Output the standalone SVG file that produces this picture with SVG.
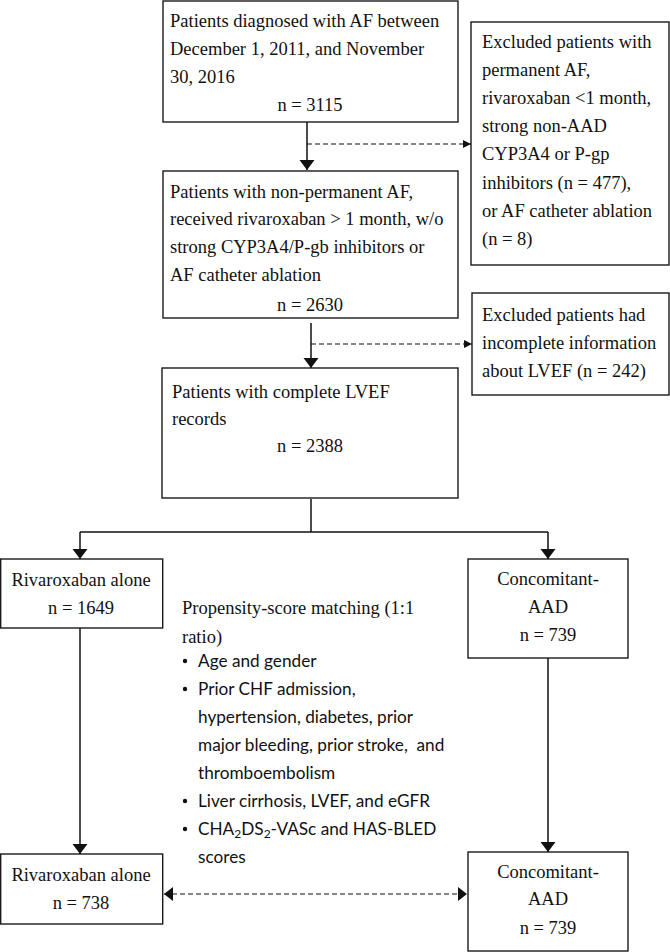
<svg xmlns="http://www.w3.org/2000/svg" width="670" height="952" viewBox="0 0 670 952">
<style>
.box{fill:#fff;stroke:#1a1a1a;stroke-width:1.4}
.t{font-family:"Liberation Serif","Times New Roman",serif;font-size:18.5px;fill:#111}
.c{text-anchor:middle}
.s{font-family:Lato,"Liberation Sans",sans-serif;font-size:17.2px;fill:#111;white-space:pre}
.ln{fill:none;stroke:#111;stroke-width:1.5}
.dl{fill:none;stroke:#111;stroke-width:1.2;stroke-dasharray:5 3}
</style>
<defs>
<marker id="ah" markerWidth="12" markerHeight="16" refX="10" refY="7.5" orient="auto" markerUnits="userSpaceOnUse">
<path d="M0,0 L10,7.5 L0,15 Z" fill="#111"/>
</marker>
<marker id="ahs" markerWidth="10" markerHeight="10" refX="8" refY="4.5" orient="auto" markerUnits="userSpaceOnUse">
<path d="M0,0.5 L8,4.5 L0,8.5 Z" fill="#111"/>
</marker>
<marker id="ahd" markerWidth="12" markerHeight="16" refX="9" refY="7" orient="auto-start-reverse" markerUnits="userSpaceOnUse">
<path d="M0,0 L9,7 L0,14 Z" fill="#111"/>
</marker>
</defs>
<rect width="670" height="952" fill="#fff"/>

<g id="connectors">
<line class="ln" x1="307" y1="122" x2="307" y2="170" marker-end="url(#ah)"/>
<line class="dl" x1="307" y1="144" x2="471" y2="144" marker-end="url(#ahs)"/>
<line class="ln" x1="311" y1="323" x2="311" y2="368" marker-end="url(#ah)"/>
<line class="dl" x1="311" y1="344" x2="472" y2="344" marker-end="url(#ahs)"/>
<polyline class="ln" points="311,499 311,532"/>
<line class="ln" x1="80" y1="532" x2="548" y2="532"/>
<line class="ln" x1="80" y1="532" x2="80" y2="559" marker-end="url(#ah)"/>
<line class="ln" x1="548" y1="532" x2="548" y2="559" marker-end="url(#ah)"/>
<line class="ln" x1="80" y1="628" x2="80" y2="854" marker-end="url(#ah)"/>
<line class="ln" x1="548" y1="658" x2="548" y2="852" marker-end="url(#ah)"/>
<line class="dl" x1="164" y1="894" x2="467" y2="894" marker-start="url(#ahd)" marker-end="url(#ahd)"/>
</g>

<g id="n1">
<rect class="box" x="163" y="1" width="295" height="121"/>
<text class="t" x="170" y="27">Patients diagnosed with AF between</text>
<text class="t" x="170" y="55">December 1, 2011, and November</text>
<text class="t" x="170" y="83">30, 2016</text>
<text class="t c" x="310" y="111">n = 3115</text>
</g>

<g id="excl1">
<rect class="box" x="471" y="22" width="198" height="243"/>
<text class="t" x="482" y="48">Excluded patients with</text>
<text class="t" x="482" y="76">permanent AF,</text>
<text class="t" x="482" y="104">rivaroxaban &lt;1 month,</text>
<text class="t" x="482" y="132">strong non-AAD</text>
<text class="t" x="482" y="160">CYP3A4 or P-gp</text>
<text class="t" x="482" y="189">inhibitors (n = 477),</text>
<text class="t" x="482" y="217">or AF catheter ablation</text>
<text class="t" x="482" y="245">(n = 8)</text>
</g>

<g id="n2">
<rect class="box" x="163" y="171" width="295" height="147"/>
<text class="t" x="170" y="198">Patients with non-permanent AF,</text>
<text class="t" x="170" y="225">received rivaroxaban &gt; 1 month, w/o</text>
<text class="t" x="170" y="253">strong CYP3A4/P-gb inhibitors or</text>
<text class="t" x="170" y="281">AF catheter ablation</text>
<text class="t c" x="310" y="311">n = 2630</text>
</g>

<g id="excl2">
<rect class="box" x="472" y="293" width="197" height="102"/>
<text class="t" x="482" y="321">Excluded patients had</text>
<text class="t" x="482" y="349">incomplete information</text>
<text class="t" x="482" y="377">about LVEF (n = 242)</text>
</g>

<g id="n3">
<rect class="box" x="162" y="368" width="296" height="130"/>
<text class="t" x="172" y="398">Patients with complete LVEF</text>
<text class="t" x="172" y="425">records</text>
<text class="t c" x="310" y="452">n = 2388</text>
</g>

<g id="riva1">
<rect class="box" x="0.7" y="559" width="162" height="69"/>
<text class="t c" x="81" y="586">Rivaroxaban alone</text>
<text class="t c" x="81" y="614">n = 1649</text>
</g>

<g id="conc1">
<rect class="box" x="468" y="559" width="160" height="99"/>
<text class="t c" x="548" y="585">Concomitant-</text>
<text class="t c" x="548" y="613">AAD</text>
<text class="t c" x="548" y="641">n = 739</text>
</g>

<g id="psm">
<text class="t" x="182" y="614">Propensity-score matching (1:1</text>
<text class="t" x="182" y="643">ratio)</text>
<circle cx="185" cy="661" r="2.2" fill="#111"/>
<text class="s" x="198" y="667">Age and gender</text>
<circle cx="185" cy="689" r="2.2" fill="#111"/>
<text class="s" x="198" y="695">Prior CHF admission,</text>
<text class="s" x="198" y="723">hypertension, diabetes, prior</text>
<text class="s" x="198" y="751">major bleeding, prior stroke,  and</text>
<text class="s" x="198" y="779">thromboembolism</text>
<circle cx="185" cy="801" r="2.2" fill="#111"/>
<text class="s" x="198" y="807">Liver cirrhosis, LVEF, and eGFR</text>
<circle cx="185" cy="829" r="2.2" fill="#111"/>
<text class="s" x="198" y="835">CHA<tspan font-size="12" dy="3">2</tspan><tspan dy="-3">DS</tspan><tspan font-size="12" dy="3">2</tspan><tspan dy="-3">-VASc and HAS-BLED</tspan></text>
<text class="s" x="198" y="863">scores</text>
</g>

<g id="riva2">
<rect class="box" x="0.7" y="854" width="162" height="70"/>
<text class="t c" x="81" y="881">Rivaroxaban alone</text>
<text class="t c" x="81" y="909">n = 738</text>
</g>

<g id="conc2">
<rect class="box" x="468" y="852" width="160" height="99"/>
<text class="t c" x="548" y="878">Concomitant-</text>
<text class="t c" x="548" y="905">AAD</text>
<text class="t c" x="548" y="934">n = 739</text>
</g>
</svg>
